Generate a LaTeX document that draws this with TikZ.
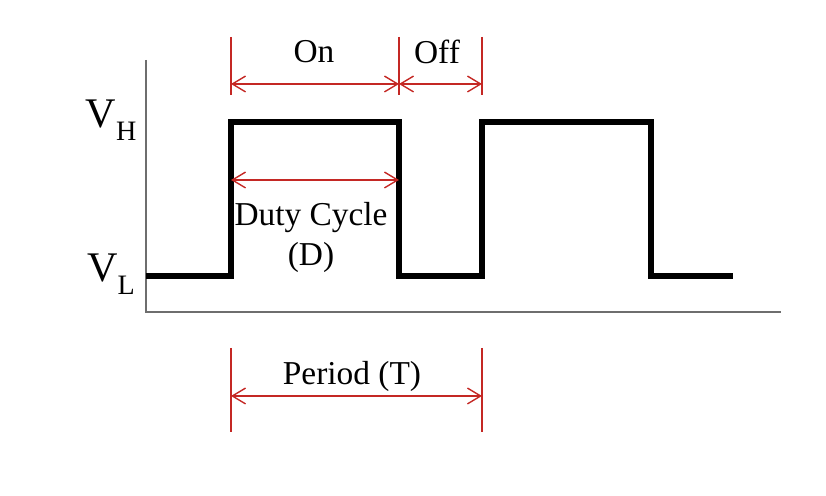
\documentclass[tikz,border=0pt]{standalone}
\usepackage{fontspec}
\setmainfont{Liberation Serif}
\usetikzlibrary{arrows.meta}
\definecolor{dimred}{RGB}{196,40,36}
\definecolor{axisgray}{RGB}{110,110,110}
\begin{document}
\begin{tikzpicture}[x=0.02cm,y=-0.02cm,
  dimline/.style={draw=dimred,line width=0.8pt},
  dimarrow/.style={draw=dimred,line width=0.8pt,{Straight Barb[length=7.5pt,width=9pt]}-{Straight Barb[length=7.5pt,width=9pt]}},
  signal/.style={line width=3pt,line join=miter},
  lbl/.style={font=\fontsize{19}{22}\selectfont,inner sep=0pt},
  vlbl/.style={font=\fontsize{24}{26}\selectfont,inner sep=0pt}]
\useasboundingbox (0,0) rectangle (826,496);
% axes
\coordinate (ytop) at (146,60);
\coordinate (origin) at (146,312);
\coordinate (xend) at (781,312);
\draw[axisgray,line width=0.6pt] (ytop) -- (origin) -- (xend);
% signal
\coordinate (s0) at (146,276);
\coordinate (s1) at (231,276);
\coordinate (s2) at (231,122);
\coordinate (s3) at (399,122);
\coordinate (s4) at (399,276);
\coordinate (s5) at (482,276);
\coordinate (s6) at (482,122);
\coordinate (s7) at (651,122);
\coordinate (s8) at (651,276);
\coordinate (s9) at (733,276);
\draw[signal] (s0) -- (s1) -- (s2) -- (s3) -- (s4) -- (s5) -- (s6) -- (s7) -- (s8) -- (s9);
% labels
\node[vlbl] (vh) at (111,120) {V\raisebox{-0.3em}{\fontsize{16}{18}\selectfont H}};
\node[vlbl] (vl) at (111,274) {V\raisebox{-0.3em}{\fontsize{16}{18}\selectfont L}};
% on/off dimension
\coordinate (t1a) at (231,37); \coordinate (t1b) at (231,95);
\coordinate (t2a) at (399,37); \coordinate (t2b) at (399,95);
\coordinate (t3a) at (482,37); \coordinate (t3b) at (482,95);
\draw[dimline] (t1a) -- (t1b);
\draw[dimline] (t2a) -- (t2b);
\draw[dimline] (t3a) -- (t3b);
\coordinate (a1) at (231,84); \coordinate (a2) at (399,84); \coordinate (a3) at (482,84);
\draw[dimarrow] (a1) -- (a2);
\draw[dimarrow] (a2) -- (a3);
\node[lbl] (on) at (314,52) {On};
\node[lbl] (off) at (437,52) {Off};
% duty cycle
\coordinate (d1) at (231,180); \coordinate (d2) at (399,180);
\draw[dimarrow] (d1) -- (d2);
\node[lbl] (duty) at (311,218) {Duty Cycle};
\node[lbl] (dd) at (311,257) {(D)};
% period
\coordinate (p1a) at (231,348); \coordinate (p1b) at (231,432);
\coordinate (p2a) at (482,348); \coordinate (p2b) at (482,432);
\draw[dimline] (p1a) -- (p1b);
\draw[dimline] (p2a) -- (p2b);
\coordinate (q1) at (231,396); \coordinate (q2) at (482,396);
\draw[dimarrow] (q1) -- (q2);
\node[lbl] (period) at (352,376) {Period (T)};
\end{tikzpicture}
\end{document}
